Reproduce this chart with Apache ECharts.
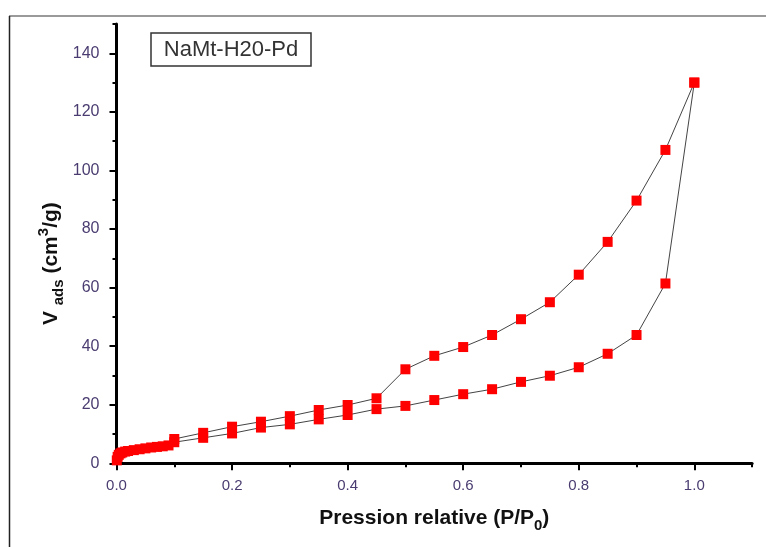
<!DOCTYPE html>
<html><head><meta charset="utf-8">
<script src="https://cdn.jsdelivr.net/npm/echarts@6/dist/echarts.min.js"></script>
<style>html,body{margin:0;padding:0;background:#fff}#c{width:766px;height:547px}</style>
</head><body><div id="c"></div>
<script>
// Adsorption branch (lower)
const adsP = [0.0005,0.002,0.004,0.007,0.01,0.015,0.02,0.03,0.04,0.05,0.06,0.07,0.08,0.09,0.1,0.15,0.2,0.25,0.3,0.35,0.4,0.45,0.5,0.55,0.6,0.65,0.7,0.75,0.8,0.85,0.9,0.95,1.0];
const adsV = [1.0,2.2,2.9,3.4,3.7,4.0,4.2,4.5,4.8,5.1,5.4,5.6,5.8,6.1,7.2,8.7,10.2,12.2,13.3,15.0,16.5,18.5,19.6,21.6,23.6,25.3,27.8,29.9,32.8,37.4,43.8,61.4,130];
// Desorption branch (upper)
const desP = [1.0,0.95,0.9,0.85,0.8,0.75,0.7,0.65,0.6,0.55,0.5,0.45,0.4,0.35,0.3,0.25,0.2,0.15,0.1];
const desV = [130,107,89.7,75.6,64.4,55,49.2,43.8,39.7,36.7,32.1,22.2,19.9,18.2,16.1,14.2,12.5,10.4,8.3];
const xTickLabels = ['0.0','0.2','0.4','0.6','0.8','1.0'];
const yTickLabels = ['0','20','40','60','80','100','120','140'];
const legendText = 'NaMt-H20-Pd';

const FONT = "'Liberation Sans', Arial, sans-serif";
const labelColor = '#4a3c70';
const zip = (a, b) => a.map((v, i) => [v, b[i]]);

const chart = echarts.init(document.getElementById('c'), null, {renderer: 'canvas'});
const axisLine = {show: true, lineStyle: {color: '#000', width: 3}};
const nameRich = {
  b: {fontSize: 21, fontWeight: 'bold', fontFamily: FONT, color: '#111', lineHeight: 30, verticalAlign: 'middle'},
  sub: {fontSize: 15, fontWeight: 'bold', fontFamily: FONT, color: '#111', lineHeight: 15, verticalAlign: 'bottom'},
  sup: {fontSize: 15, fontWeight: 'bold', fontFamily: FONT, color: '#111', lineHeight: 15, verticalAlign: 'top'}
};
chart.setOption({
  animation: false,
  backgroundColor: '#fff',
  grid: [
    {left: 116.5, right: 13.9, top: 24, bottom: 83.7, containLabel: false},
    {left: 116.5, right: 71.7, top: 53.3, bottom: 83.7, containLabel: false}
  ],
  xAxis: [
    {type: 'value', gridIndex: 0, min: 0, max: 1.1, interval: 0.1,
     axisLine: axisLine, splitLine: {show: false},
     axisTick: {show: true, length: 4, lineStyle: {color: '#000', width: 2}},
     axisLabel: {show: false},
     name: '{b|Pression relative (P/P}{sub|0}{b|)}', nameLocation: 'middle', nameGap: 40,
     nameTextStyle: {rich: nameRich}},
    {type: 'value', gridIndex: 1, min: 0, max: 1.0, interval: 0.2,
     axisLine: {show: false}, splitLine: {show: false},
     axisTick: {show: true, length: 7, lineStyle: {color: '#000', width: 2}},
     axisLabel: {show: true, margin: 15, fontSize: 15, fontFamily: FONT, color: labelColor,
       formatter: v => { const i = Math.round(v / 0.2); return xTickLabels[i] || ''; }}}
  ],
  yAxis: [
    {type: 'value', gridIndex: 0, min: 0, max: 150, interval: 10,
     axisLine: axisLine, splitLine: {show: false},
     axisTick: {show: true, length: 4, lineStyle: {color: '#000', width: 2}},
     axisLabel: {show: false},
     name: '{b|V }{sub|ads}{b| (cm}{sup|3}{b|/g)}', nameLocation: 'middle', nameGap: 50,
     nameTextStyle: {rich: nameRich, padding: [0, 40, 0, 0]}},
    {type: 'value', gridIndex: 1, min: 0, max: 140, interval: 20,
     axisLine: {show: false}, splitLine: {show: false},
     axisTick: {show: true, length: 7, lineStyle: {color: '#000', width: 2}},
     axisLabel: {show: true, margin: 17, fontSize: 16, fontFamily: FONT, color: labelColor,
       formatter: v => { const i = Math.round(v / 20); return yTickLabels[i] || ''; }}}
  ],
  graphic: [
    {type: 'line', shape: {x1: 9, y1: 16, x2: 766, y2: 16}, style: {stroke: '#9a9a9a', lineWidth: 2}},
    {type: 'line', shape: {x1: 9.5, y1: 16, x2: 9.5, y2: 547}, style: {stroke: '#222', lineWidth: 1.5}},
    {type: 'rect', shape: {x: 151, y: 33, width: 160, height: 33}, style: {fill: '#fff', stroke: '#333', lineWidth: 1.5}},
    {type: 'text', x: 231, y: 50, style: {text: legendText, fontSize: 22, fontFamily: FONT, fill: '#333', align: 'center', verticalAlign: 'middle'}}
  ],
  series: [
    {name: 'Adsorption', type: 'line', xAxisIndex: 0, yAxisIndex: 0, data: zip(adsP, adsV),
     symbol: 'rect', symbolSize: 10, itemStyle: {color: '#ff0000'},
     lineStyle: {color: '#444', width: 1}},
    {name: 'Desorption', type: 'line', xAxisIndex: 0, yAxisIndex: 0, data: zip(desP, desV),
     symbol: 'rect', symbolSize: 10, itemStyle: {color: '#ff0000'},
     lineStyle: {color: '#444', width: 1}}
  ]
});
</script></body></html>
